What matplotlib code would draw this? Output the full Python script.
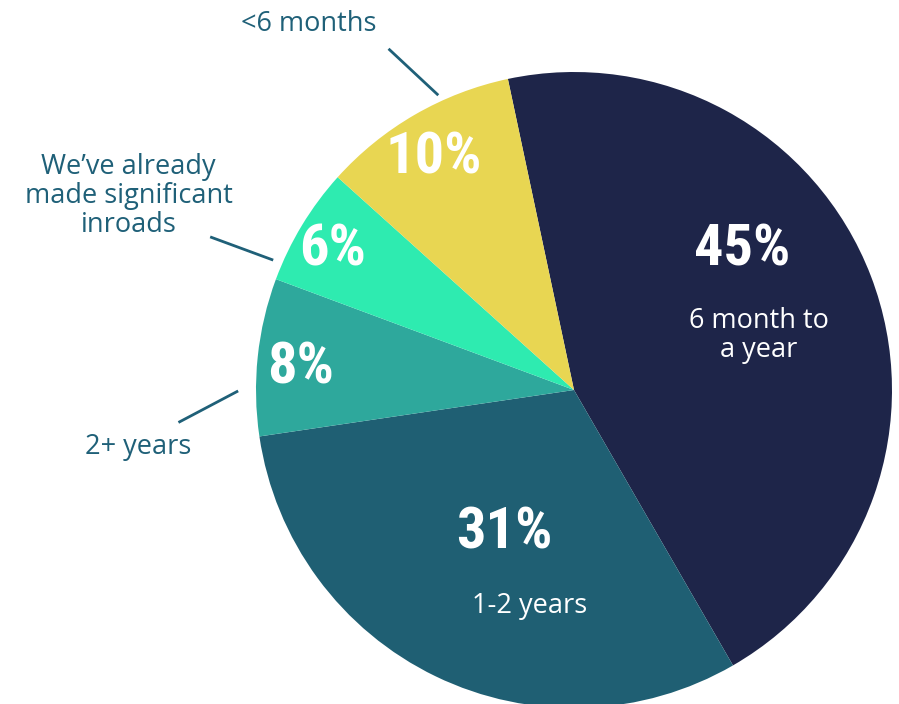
import matplotlib
matplotlib.use("Agg")
import matplotlib.pyplot as plt
import numpy as np

# === Data ===
labels = ["6 month to\na year", "1-2 years", "2+ years",
          "We\u2019ve already\nmade significant\ninroads", "<6 months"]
values = [45, 31, 8, 6, 10]
colors = ["#1E2549", "#1F5F73", "#2EA89C", "#2EEBB0", "#E8D652"]

# positions of the labels (axes data coords, pie radius = 1)
pct_pos = [(0.53, 0.44), (-0.22, -0.45), (-0.86, 0.07), (-0.76, 0.44), (-0.44, 0.73)]
inner_label_pos = [(0.58, 0.17), (-0.14, -0.68)]
outer_text_pos = [(None, None), (None, None), (-1.37, -0.18), (-1.4, 0.61), (-0.835, 1.15)]
outer_line = [None, None, ((-1.24, -0.10), (-1.06, -0.005)),
              ((-1.14, 0.48), (-0.95, 0.41)), ((-0.58, 1.07), (-0.43, 0.93))]

label_color = "#1F6078"
pct_font = ["Roboto Condensed", "DejaVu Sans Condensed", "Liberation Sans Narrow", "Roboto"]
txt_font = ["Open Sans", "DejaVu Sans"]

fig = plt.figure(figsize=(8.99, 7.04), dpi=100)
r_px, cx, cy = 318, 574, 390
ax = fig.add_axes([(cx - r_px) / 899, (704 - cy - r_px) / 704, 2 * r_px / 899, 2 * r_px / 704])
ax.pie(values, colors=colors, startangle=102, counterclock=False, radius=1,
       wedgeprops=dict(linewidth=0))
ax.set_xlim(-1, 1)
ax.set_ylim(-1, 1)
ax.set_aspect("equal")
ax.axis("off")

for v, (x, y) in zip(values, pct_pos):
    ax.text(x, y, f"{v}%", ha="center", va="center", color="white",
            fontsize=42, fontweight="bold", fontstretch="condensed", family=pct_font)

for lab, (x, y) in zip(labels[:2], inner_label_pos):
    ax.text(x, y, lab, ha="center", va="center", color="white",
            fontsize=19.5, family=txt_font, linespacing=1.05)

for i in range(2, 5):
    x, y = outer_text_pos[i]
    ax.text(x, y, labels[i], ha="center", va="center", color=label_color,
            fontsize=19.5, family=txt_font, linespacing=1.05, clip_on=False)
    (x0, y0), (x1, y1) = outer_line[i]
    ax.plot([x0, x1], [y0, y1], color=label_color, lw=2, clip_on=False)

fig.savefig("out.png", dpi=100)
